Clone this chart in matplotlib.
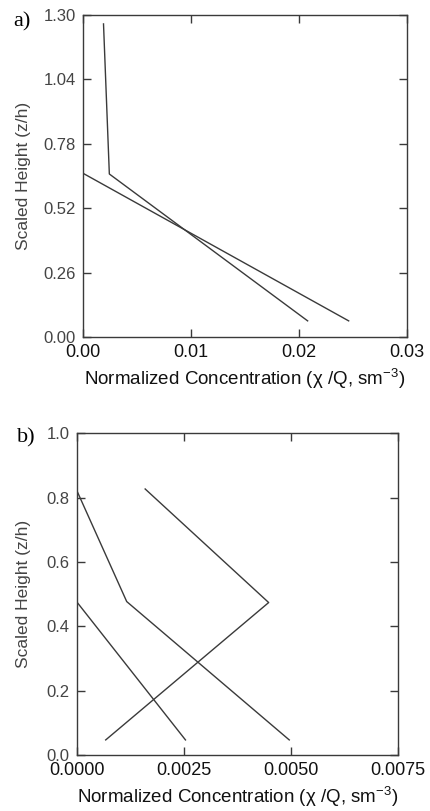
"""Vertical profiles of normalized concentration vs scaled height (two panels)."""
import numpy as np
import matplotlib
matplotlib.use("Agg")
import matplotlib.pyplot as plt
from matplotlib.ticker import FormatStrFormatter

plt.rcParams['font.family'] = ['Liberation Sans', 'DejaVu Sans']
plt.rcParams['mathtext.fontset'] = 'custom'
plt.rcParams['mathtext.rm'] = 'Liberation Sans'
plt.rcParams['mathtext.it'] = 'Liberation Sans:italic'

# panel a) data
a_x1 = [0.0019, 0.00244, 0.0208]
a_z1 = [1.264, 0.658, 0.065]
a_x2 = [0.0, 0.0246]
a_z2 = [0.661, 0.065]
a_xticks = [0.0, 0.01, 0.02, 0.03]
a_yticks = [0.0, 0.26, 0.52, 0.78, 1.04, 1.30]

# panel b) data
b_x1 = [0.0, 0.00117, 0.00496]
b_z1 = [0.824, 0.477, 0.047]
b_x2 = [0.0016, 0.00448, 0.00068]
b_z2 = [0.827, 0.474, 0.047]
b_x3 = [0.0, 0.00254]
b_z3 = [0.477, 0.047]
b_xticks = [0.0, 0.0025, 0.005, 0.0075]
b_yticks = [0.0, 0.2, 0.4, 0.6, 0.8, 1.0]

line_col = '#3a3a3a'
xlabel = 'Normalized Concentration (\u03c7 /Q, sm$^{-3}$)'

fig = plt.figure(figsize=(4.30, 8.11), dpi=100)
ax_a = fig.add_axes([0.193, 0.5845, 0.7535, 0.397])
ax_b = fig.add_axes([0.178, 0.069, 0.748, 0.3967])


def style(ax, xticks, yticks, xfmt, yfmt):
    ax.set_xlim(xticks[0], xticks[-1])
    ax.set_ylim(yticks[0], yticks[-1])
    ax.set_xticks(xticks)
    ax.set_yticks(yticks)
    ax.xaxis.set_major_formatter(FormatStrFormatter(xfmt))
    ax.yaxis.set_major_formatter(FormatStrFormatter(yfmt))
    ax.tick_params(direction='in', length=6, width=1, color=line_col,
                   top=True, right=True)
    ax.tick_params(axis='x', labelsize=13, pad=5, labelcolor='#111111')
    ax.tick_params(axis='y', labelsize=12, pad=5, labelcolor='#444444')
    for sp in ax.spines.values():
        sp.set_color(line_col)
        sp.set_linewidth(1.0)
    ax.set_xlabel(xlabel, fontsize=13.5, color='#111111', labelpad=4)
    ax.set_ylabel('Scaled Height (z/h)', fontsize=12.5, color='#444444')


ax_a.plot(a_x1, a_z1, color=line_col, lw=1.0)
ax_a.plot(a_x2, a_z2, color=line_col, lw=1.0)
style(ax_a, a_xticks, a_yticks, '%.2f', '%.2f')
ax_a.yaxis.set_label_coords(-0.16, 0.5)
ax_a.text(-0.188, 0.978, 'a)', transform=ax_a.transAxes, fontsize=16,
          family='Liberation Serif', va='center', ha='center')

ax_b.plot(b_x1, b_z1, color=line_col, lw=1.0)
ax_b.plot(b_x2, b_z2, color=line_col, lw=1.0)
ax_b.plot(b_x3, b_z3, color=line_col, lw=1.0)
style(ax_b, b_xticks, b_yticks, '%.4f', '%.1f')
ax_b.yaxis.set_label_coords(-0.142, 0.5)
ax_b.text(-0.155, 0.985, 'b)', transform=ax_b.transAxes, fontsize=16,
          family='Liberation Serif', va='center', ha='center')

fig.savefig('out.png', dpi=100)
